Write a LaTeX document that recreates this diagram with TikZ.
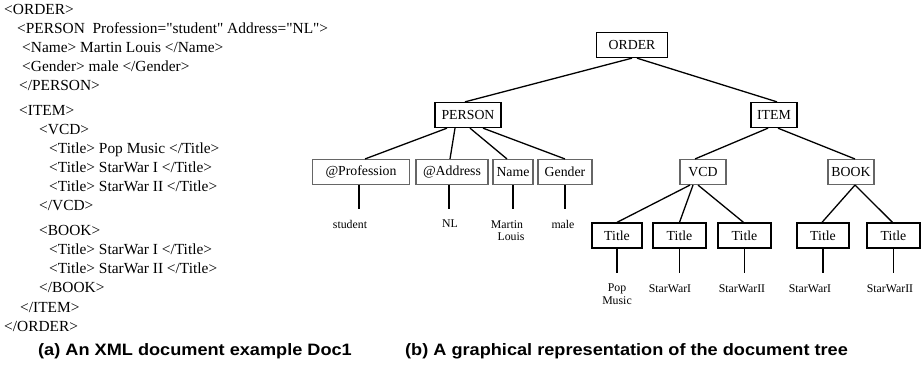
\documentclass[tikz,border=0pt]{standalone}
\usepackage{fontspec}
\setmainfont{Liberation Serif}
\newfontfamily\capfont[FakeStretch=1.1]{Liberation Sans}
\begin{document}
\begin{tikzpicture}[x=1pt,y=-1pt,
  xml/.style={anchor=base west, inner sep=0pt, font=\fontsize{15.4}{18}\selectfont},
  caption/.style={anchor=base west, inner sep=0pt, font=\capfont\bfseries\fontsize{16.5}{19}\selectfont},
  tagbox/.style={draw, line width=1.3pt, minimum height=25pt, inner sep=0pt, font=\fontsize{13.8}{16}\selectfont},
  softbox/.style={tagbox, draw=black!60, line width=1.1pt},
  leaf/.style={anchor=north, inner sep=0pt, align=center, font=\fontsize{11.8}{12.8}\selectfont},
  edge/.style={line width=1.3pt},
  stem/.style={line width=1.2pt}]
\useasboundingbox (0,0) rectangle (921,365);

% XML source listing
\node[xml] (l1)  at (4,14)   {<ORDER>};
\node[xml] (l2)  at (17,33)  {<PERSON\ \ Profession=\textquotedbl student\textquotedbl\ Address=\textquotedbl NL\textquotedbl>};
\node[xml] (l3)  at (22,52)  {<Name> Martin Louis </Name>};
\node[xml] (l4)  at (22,71)  {<Gender> male </Gender>};
\node[xml] (l5)  at (19,90)  {</PERSON>};
\node[xml] (l6)  at (19,115) {<ITEM>};
\node[xml] (l7)  at (39,134) {<VCD>};
\node[xml] (l8)  at (49,153) {<Title> Pop Music </Title>};
\node[xml] (l9)  at (49,172) {<Title> StarWar I </Title>};
\node[xml] (l10) at (49,191) {<Title> StarWar II </Title>};
\node[xml] (l11) at (39,210) {</VCD>};
\node[xml] (l12) at (39,235) {<BOOK>};
\node[xml] (l13) at (49,254) {<Title> StarWar I </Title>};
\node[xml] (l14) at (49,273) {<Title> StarWar II </Title>};
\node[xml] (l15) at (39,292) {</BOOK>};
\node[xml] (l16) at (20,312) {</ITEM>};
\node[xml] (l17) at (4,331)  {</ORDER>};

% captions
\node[caption] (capa) at (38,355)  {(a) An XML document example Doc1};
\node[caption] (capb) at (405,355) {(b) A graphical representation of the document tree};

% document tree
\node[tagbox, minimum width=71pt] (order) at (632,45) {ORDER};
\node[tagbox, minimum width=66pt] (person) at (468,115) {PERSON};
\node[tagbox, minimum width=46pt] (item) at (774,115) {ITEM};

\node[softbox, minimum width=97pt] (prof) at (361,172) {@Profession};
\node[softbox, minimum width=72pt] (addr) at (452,172) {@Address};
\node[softbox, minimum width=40pt] (name) at (513,172) {Name};
\node[softbox, minimum width=54pt] (gend) at (565,172) {Gender};
\node[softbox, minimum width=46pt] (vcd)  at (703,172) {VCD};
\node[softbox, minimum width=46pt] (book) at (851,172) {BOOK};

\node[tagbox, minimum width=50pt] (t1) at (617,235.5) {Title};
\node[tagbox, minimum width=53pt] (t2) at (679.5,235.5) {Title};
\node[tagbox, minimum width=53pt] (t3) at (744.5,235.5) {Title};
\node[tagbox, minimum width=52pt] (t4) at (823,235.5) {Title};
\node[tagbox, minimum width=53pt] (t5) at (893.5,235.5) {Title};

% text values
\node[leaf] (vstu)  at (350,220) {student};
\node[leaf] (vnl)   at (450,220) {NL};
\node[leaf] (vml)   at (507,220) {Martin\\\hspace*{8pt}Louis};
\node[leaf] (vmale) at (563,220) {male};
\node[leaf] (vpop)  at (617,284) {Pop\\Music};
\node[leaf] (vsw1)  at (670,284) {StarWarI};
\node[leaf] (vsw2)  at (742,284) {StarWarII};
\node[leaf] (vsw3)  at (810,284) {StarWarI};
\node[leaf] (vsw4)  at (890,284) {StarWarII};

% tree edges
\draw[edge] (order.south) -- ([xshift=-3pt]person.north);
\draw[edge] ([xshift=5pt]order.south) -- ([xshift=3pt]item.north);

\draw[edge] ([xshift=-21pt]person.south) -- ([xshift=4pt]prof.north);
\draw[edge] ([xshift=-13pt]person.south) -- ([xshift=-2pt]addr.north);
\draw[edge] ([xshift=2pt]person.south) -- ([xshift=-6pt]name.north);
\draw[edge] ([xshift=15pt]person.south) -- (gend.north);

\draw[edge] ([xshift=-6pt]item.south) -- ([xshift=-8pt]vcd.north);
\draw[edge] ([xshift=4pt]item.south) -- ([xshift=4pt]book.north);

\draw[edge] ([xshift=-13pt]vcd.south) -- (t1.north);
\draw[edge] ([xshift=-10pt]vcd.south) -- (t2.north);
\draw[edge] ([xshift=-5pt]vcd.south) -- ([xshift=-1pt]t3.north);
\draw[edge] ([xshift=4pt]book.south) -- ([xshift=-1pt]t4.north);
\draw[edge] ([xshift=4pt]book.south) -- ([xshift=-1pt]t5.north);

% stems down to the text values
\draw[stem, shorten >=11pt] ([xshift=-2pt]prof.south) -- ([xshift=-2pt]prof.south |- vstu.north);
\draw[stem, shorten >=11pt] ([xshift=-3pt]addr.south) -- ([xshift=-3pt]addr.south |- vnl.north);
\draw[stem, shorten >=11pt] (name.south) -- (name.south |- vml.north);
\draw[stem, shorten >=11pt] (gend.south) -- (gend.south |- vmale.north);
\draw[stem, shorten >=11pt] (t1.south) -- (t1.south |- vpop.north);
\draw[stem, shorten >=11pt] (t2.south) -- (t2.south |- vsw1.north);
\draw[stem, shorten >=11pt] (t3.south) -- (t3.south |- vsw2.north);
\draw[stem, shorten >=11pt] (t4.south) -- (t4.south |- vsw3.north);
\draw[stem, shorten >=11pt] (t5.south) -- (t5.south |- vsw4.north);
\end{tikzpicture}
\end{document}
